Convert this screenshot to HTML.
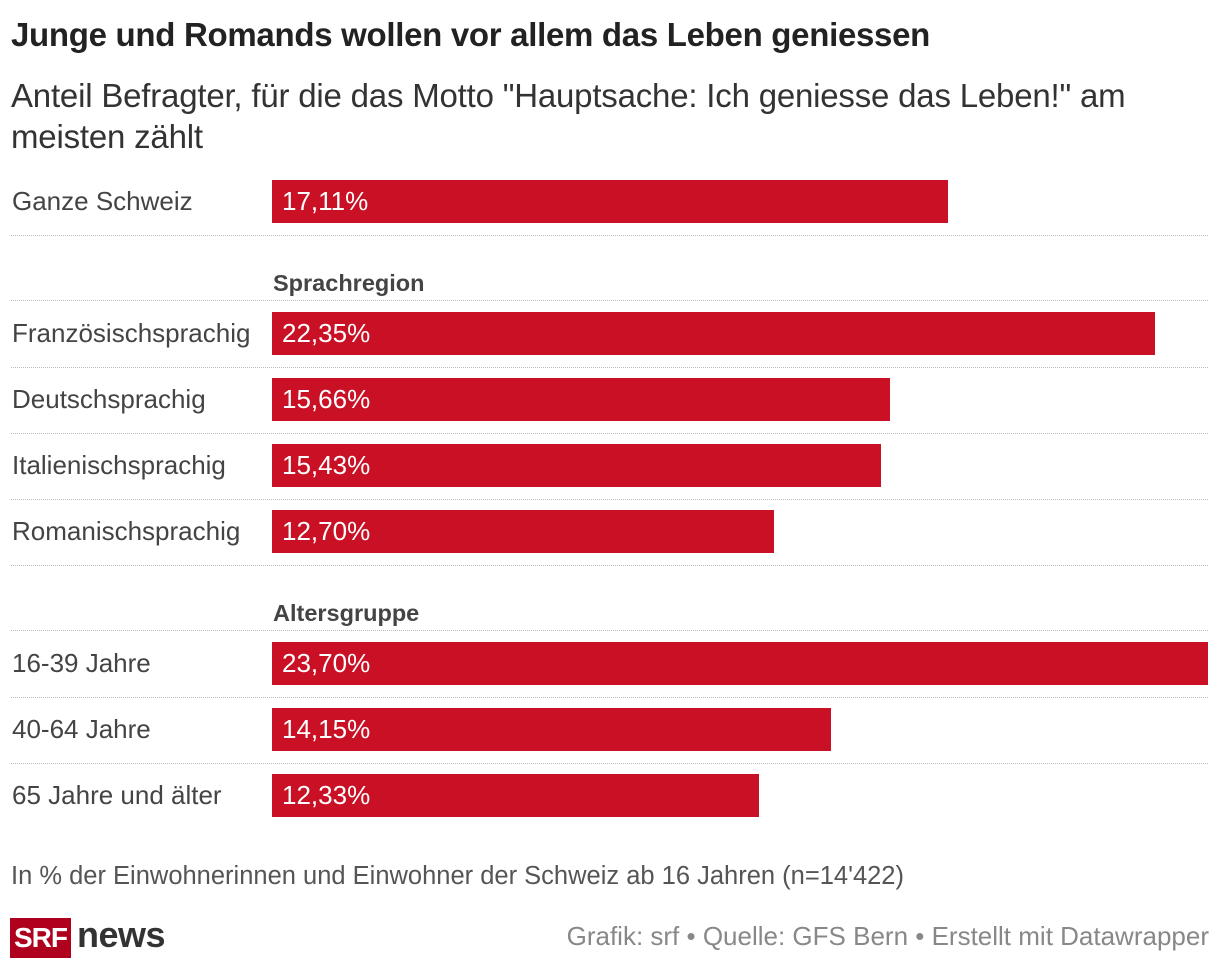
<!DOCTYPE html>
<html><head><meta charset="utf-8"><style>
body{margin:0;width:1220px;height:970px;background:#fff;font-family:"Liberation Sans",sans-serif;color:#333;position:relative;overflow:hidden}
.a{position:absolute;white-space:nowrap}
</style></head><body>
<div class="a" style="left:11px;top:16px;font-size:33px;font-weight:bold;color:#222;letter-spacing:-0.3px">Junge und Romands wollen vor allem das Leben geniessen</div>
<div class="a" style="left:11px;top:75px;font-size:33px;line-height:41px;color:#333;white-space:normal;width:1170px;letter-spacing:-0.2px">Anteil Befragter, für die das Motto "Hauptsache: Ich geniesse das Leben!" am meisten zählt</div>
<div id="chart"></div>
<div class="a" style="left:11px;top:862px;font-size:25.5px;color:#555">In % der Einwohnerinnen und Einwohner der Schweiz ab 16 Jahren (n=14'422)</div>
<div class="a" style="left:10px;top:918px;width:61px;height:40px;background:#af001d;color:#fff;font-size:28px;font-weight:bold;line-height:40px;text-align:center;letter-spacing:-1px">SRF</div>
<div class="a" style="left:77px;top:914px;font-size:36px;font-weight:bold;color:#333;letter-spacing:-0.5px">news</div>
<div class="a" style="right:11px;top:921px;font-size:26px;color:#888">Grafik: srf • Quelle: GFS Bern • Erstellt mit Datawrapper</div>
<script>
const labels=["Ganze Schweiz","Französischsprachig","Deutschsprachig","Italienischsprachig","Romanischsprachig","16-39 Jahre","40-64 Jahre","65 Jahre und älter"];
const values=[17.11,22.35,15.66,15.43,12.70,23.70,14.15,12.33];
const groups=["","Sprachregion","Sprachregion","Sprachregion","Sprachregion","Altersgruppe","Altersgruppe","Altersgruppe"];
const xMax=23.70, x0=272, x1=1208;
const xs=v=>(v/xMax)*(x1-x0);
const c=document.getElementById('chart');
let y=180, prev="";
function sep(yy){const d=document.createElement('div');d.className='a';


d.style.cssText=`left:11px;top:${yy}px;width:1197px;border-top:1px dotted #bbb`;c.appendChild(d);}
labels.forEach((l,i)=>{
 if(groups[i]!==prev && groups[i]!==""){
  const h=document.createElement('div');h.className='a';
  
  
  h.style.cssText=`left:273px;top:${y+24}px;font-size:23.5px;font-weight:bold;color:#444`;
  h.textContent=groups[i];c.appendChild(h);
  sep(y+54);
  y+=66;
 }
 prev=groups[i];
 const lb=document.createElement('div');lb.className='a';
 
 
 lb.style.cssText=`left:12px;top:${y+6}px;font-size:26px;color:#444`;lb.textContent=l;c.appendChild(lb);
 const b=document.createElement('div');b.className='a';
 
 
 b.style.cssText=`left:${x0}px;top:${y}px;width:${xs(values[i])}px;height:43px;background:#c91024`;c.appendChild(b);
 const v=document.createElement('div');v.className='a';
 
 
 v.style.cssText=`left:${x0+10}px;top:${y+6}px;font-size:26px;color:#fff`;v.textContent=values[i].toFixed(2).replace('.',',')+'%';c.appendChild(v);
 if(i<labels.length-1) sep(y+55);
 y+=66;
});
</script>
</body></html>
